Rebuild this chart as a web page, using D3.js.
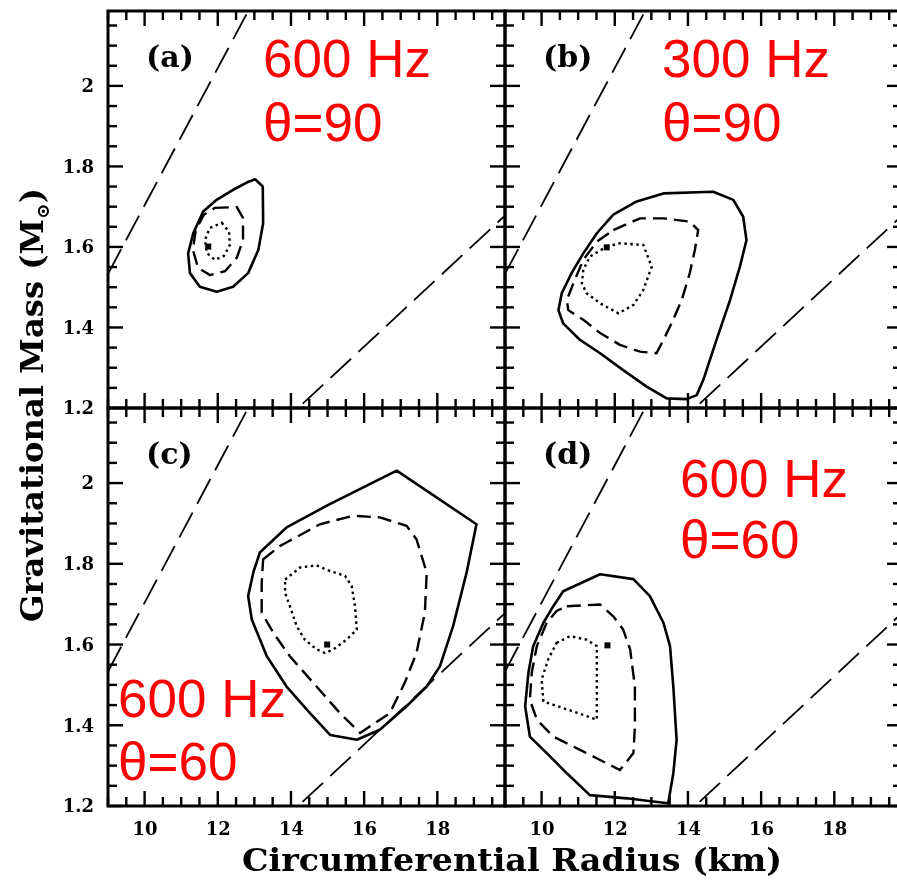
<!DOCTYPE html>
<html>
<head>
<meta charset="utf-8">
<script src="https://cdn.jsdelivr.net/npm/d3@7"></script>
<style>
  body { margin: 0; background: #fff; }
  #wrap { position: relative; width: 897px; height: 880px; }
  #tickCanvas, #chart { position: absolute; left: 0; top: 0; display: block; }
</style>
</head>
<body>
<div id="wrap">
<canvas id="tickCanvas" width="897" height="880"></canvas>
<svg id="chart" width="897" height="880"></svg>
</div>
<script>
// ---- axis ranges and ticks -------------------------------------------
const radiusDomain = [9, 19.85];          // circumferential radius, km
const massDomain = [1.2, 2.186];          // gravitational mass, solar masses
const radiusMajorTicks = [10, 12, 14, 16, 18];
const radiusMinorTicks = [9, 9.5, 10.5, 11, 11.5, 12.5, 13, 13.5, 14.5, 15, 15.5, 16.5, 17, 17.5, 18.5, 19, 19.5];
const massMajorTicks = [1.2, 1.4, 1.6, 1.8, 2.0];
const massMinorTicks = [1.25, 1.3, 1.35, 1.45, 1.5, 1.55, 1.65, 1.7, 1.75, 1.85, 1.9, 1.95, 2.05, 2.1, 2.15];

// ---- limit lines R = s * M (km per solar mass) ----------------------------
const limitLineSlopes = [5.87, 11.83];

// ---- confidence contours [radius km, mass Msun] ----------------------------
// (a) 600 Hz, theta = 90
const contourA_outer = [[13.02,1.768],[13.23,1.750],[13.24,1.659],[13.11,1.593],[12.83,1.535],[12.42,1.501],[11.97,1.489],[11.51,1.501],[11.24,1.535],[11.19,1.584],[11.33,1.634],[11.60,1.688],[11.97,1.717],[12.42,1.742],[12.79,1.760]];
const contourA_middle = [[11.92,1.697],[12.52,1.699],[12.69,1.672],[12.69,1.617],[12.52,1.573],[12.20,1.540],[11.79,1.530],[11.46,1.548],[11.32,1.593],[11.40,1.642],[11.62,1.680]];
const contourA_inner = [[12.11,1.660],[12.31,1.637],[12.33,1.605],[12.17,1.578],[11.92,1.568],[11.70,1.585],[11.65,1.617],[11.78,1.647]];
const bestA = [11.74, 1.601];

// (b) 300 Hz, theta = 90
const contourB_outer = [[13.33,1.733],[14.69,1.737],[15.24,1.717],[15.51,1.675],[15.60,1.617],[15.42,1.551],[15.15,1.468],[14.78,1.369],[14.42,1.270],[14.24,1.232],[13.96,1.222],[13.42,1.224],[12.87,1.253],[12.23,1.294],[11.60,1.336],[11.05,1.369],[10.59,1.410],[10.46,1.443],[10.55,1.485],[10.82,1.535],[11.14,1.584],[11.51,1.634],[11.96,1.680],[12.60,1.713]];
const contourB_middle = [[11.96,1.642],[12.69,1.671],[13.33,1.671],[14.05,1.663],[14.28,1.642],[14.19,1.593],[14.05,1.535],[13.83,1.468],[13.55,1.410],[13.33,1.369],[13.14,1.336],[12.69,1.340],[12.14,1.357],[11.60,1.386],[11.14,1.419],[10.73,1.443],[10.69,1.468],[10.87,1.510],[11.14,1.568],[11.51,1.613]];
const contourB_inner = [[11.78,1.601],[12.14,1.609],[12.78,1.605],[13.01,1.551],[12.78,1.493],[12.51,1.456],[12.10,1.435],[11.60,1.460],[11.23,1.485],[11.10,1.510],[11.14,1.543],[11.32,1.576]];
const bestB = [11.78, 1.599];

// (c) 600 Hz, theta = 60
const contourC_outer = [[13.15,1.828],[13.88,1.890],[14.98,1.944],[16.89,2.031],[19.07,1.898],[18.80,1.778],[18.43,1.645],[18.07,1.546],[17.71,1.496],[17.16,1.447],[16.43,1.389],[15.80,1.364],[15.07,1.376],[14.52,1.430],[13.88,1.496],[13.34,1.571],[12.93,1.662],[12.83,1.720],[12.97,1.778]];
const contourC_middle = [[13.24,1.811],[13.70,1.844],[14.79,1.898],[15.70,1.919],[16.43,1.915],[17.16,1.894],[17.43,1.861],[17.71,1.778],[17.66,1.679],[17.43,1.579],[17.11,1.505],[16.70,1.430],[15.89,1.381],[15.34,1.430],[14.70,1.496],[13.97,1.571],[13.52,1.629],[13.20,1.679],[13.20,1.753]];
const contourC_inner = [[13.84,1.761],[14.25,1.791],[14.70,1.796],[15.07,1.782],[15.48,1.770],[15.66,1.745],[15.75,1.695],[15.80,1.637],[15.52,1.612],[15.16,1.588],[14.93,1.579],[14.70,1.588],[14.38,1.612],[14.16,1.645],[13.97,1.695],[13.84,1.728]];
const bestC = [14.99, 1.600];

// (d) 600 Hz, theta = 60
const contourD_outer = [[10.59,1.732],[11.60,1.774],[12.51,1.762],[12.96,1.720],[13.33,1.654],[13.51,1.596],[13.60,1.496],[13.69,1.364],[13.60,1.281],[13.46,1.207],[12.87,1.213],[12.33,1.219],[11.32,1.227],[10.69,1.281],[10.14,1.331],[9.68,1.372],[9.55,1.447],[9.64,1.530],[9.77,1.596],[10.05,1.654],[10.32,1.695]];
const contourD_middle = [[10.69,1.695],[11.60,1.699],[11.96,1.670],[12.23,1.637],[12.42,1.588],[12.55,1.496],[12.55,1.397],[12.51,1.331],[12.14,1.289],[11.60,1.314],[11.05,1.339],[10.32,1.372],[9.87,1.414],[9.68,1.463],[9.73,1.530],[9.87,1.596],[10.14,1.654],[10.41,1.683]];
const contourD_inner = [[10.41,1.604],[10.78,1.621],[11.23,1.612],[11.51,1.596],[11.51,1.414],[10.87,1.434],[10.05,1.459],[10.00,1.513],[10.18,1.563]];
const bestD = [11.80, 1.598];

// ---- panel annotations ------------------------------------------------------
const panelLetters = ["(a)", "(b)", "(c)", "(d)"];
const spinLabels = ["600 Hz", "300 Hz", "600 Hz", "600 Hz"];
const angleLabels = ["θ=90", "θ=90", "θ=60", "θ=60"];

// ---- layout -----------------------------------------------------------------
const colX = [[108, 505], [505, 902]];
const rowY = [[408, 11], [806, 408]];
const annotPos = [
  { x: 263, y1: 77, y2: 141 },
  { x: 662, y1: 77, y2: 141 },
  { x: 118, y1: 717, y2: 780 },
  { x: 680, y1: 497, y2: 558 }
];

const panels = [
  { col: 0, row: 0, outer: contourA_outer, middle: contourA_middle, inner: contourA_inner, best: bestA },
  { col: 1, row: 0, outer: contourB_outer, middle: contourB_middle, inner: contourB_inner, best: bestB },
  { col: 0, row: 1, outer: contourC_outer, middle: contourC_middle, inner: contourC_inner, best: bestC },
  { col: 1, row: 1, outer: contourD_outer, middle: contourD_middle, inner: contourD_inner, best: bestD }
];

const svg = d3.select("#chart");
const ctx = document.getElementById("tickCanvas").getContext("2d");
ctx.fillStyle = "#fff";
ctx.fillRect(0, 0, 897, 880);
const tickFont = "'DejaVu Serif', serif";
const defs = svg.append("defs");
const labelLayer = svg.append("g").attr("class", "tick-labels");
const TICK_W = 2.4;

// inward tick marks painted on the canvas beneath the vector layer
function paintTicks(scale, values, len, side, edge) {
  ctx.fillStyle = "#000";
  values.forEach(v => {
    const s = scale(v);
    if (side === "bottom") ctx.fillRect(s - TICK_W / 2, edge - len, TICK_W, len);
    else if (side === "top") ctx.fillRect(s - TICK_W / 2, edge, TICK_W, len);
    else if (side === "left") ctx.fillRect(edge, s - TICK_W / 2, len, TICK_W);
    else ctx.fillRect(edge - len, s - TICK_W / 2, len, TICK_W);
  });
}

panels.forEach((p, i) => {
  const x = d3.scaleLinear().domain(radiusDomain).range(colX[p.col]);
  const y = d3.scaleLinear().domain(massDomain).range(rowY[p.row]);
  const [x0, x1] = x.range();
  const [yb, yt] = y.range();
  const g = svg.append("g").attr("class", "panel");

  defs.append("clipPath").attr("id", "clip" + i)
    .append("rect").attr("x", x0).attr("y", yt).attr("width", x1 - x0).attr("height", yb - yt);

  const plot = g.append("g").attr("clip-path", `url(#clip${i})`);

  // limit lines through the origin
  limitLineSlopes.forEach(s => {
    plot.append("line")
      .attr("x1", x(radiusDomain[0])).attr("y1", y(radiusDomain[0] / s))
      .attr("x2", x(radiusDomain[1])).attr("y2", y(radiusDomain[1] / s))
      .attr("stroke", "#000").attr("stroke-width", 1.8)
      .attr("stroke-dasharray", "28,10");
  });

  const line = d3.line().x(d => x(d[0])).y(d => y(d[1])).curve(d3.curveLinearClosed);

  plot.append("path").attr("d", line(p.outer))
    .attr("fill", "none").attr("stroke", "#000").attr("stroke-width", 2.6)
    .attr("stroke-linejoin", "round");
  plot.append("path").attr("d", line(p.middle))
    .attr("fill", "none").attr("stroke", "#000").attr("stroke-width", 2.4)
    .attr("stroke-dasharray", "14,7");
  plot.append("path").attr("d", line(p.inner))
    .attr("fill", "none").attr("stroke", "#000").attr("stroke-width", 2.4)
    .attr("stroke-dasharray", "2.5,3.5");
  plot.append("rect")
    .attr("x", x(p.best[0]) - 3).attr("y", y(p.best[1]) - 3)
    .attr("width", 6).attr("height", 6).attr("fill", "#000");

  // inward ticks on all four edges: every 0.5 km / 0.05 Msun, longer at labelled values
  [["bottom", yb], ["top", yt]].forEach(([side, edge]) => {
    paintTicks(x, radiusMinorTicks, 9, side, edge);
    paintTicks(x, radiusMajorTicks, 15, side, edge);
  });
  [["left", x0], ["right", x1]].forEach(([side, edge]) => {
    paintTicks(y, massMinorTicks, 9, side, edge);
    paintTicks(y, massMajorTicks, 15, side, edge);
  });

  // frame
  g.append("rect").attr("x", x0).attr("y", yt).attr("width", x1 - x0).attr("height", yb - yt)
    .attr("fill", "none").attr("stroke", "#000").attr("stroke-width", 3);

  // tick labels on the outer edges
  const styleLabels = a => {
    a.select(".domain").remove();
    a.selectAll(".tick line").remove();
    a.selectAll(".tick text")
      .attr("font-family", tickFont).attr("font-weight", "bold")
      .attr("font-size", 18).attr("fill", "#000");
  };
  if (p.row === 1) {
    labelLayer.append("g").attr("transform", `translate(0,${yb})`)
      .call(d3.axisBottom(x).tickValues(radiusMajorTicks).tickSize(0).tickPadding(16)
        .tickFormat(d3.format("d")))
      .call(styleLabels);
  }
  if (p.col === 0) {
    labelLayer.append("g").attr("transform", `translate(${x0},0)`)
      .call(d3.axisLeft(y).tickValues(massMajorTicks).tickSize(0).tickPadding(14)
        .tickFormat(d => String(+d.toFixed(2))))
      .call(styleLabels);
  }

  // panel letter
  g.append("text").attr("x", x0 + 38).attr("y", yt + 56)
    .attr("font-family", tickFont).attr("font-weight", "bold").attr("font-size", 30)
    .text(panelLetters[i]);

  // spin frequency and inclination notes
  const a = annotPos[i];
  g.append("text").attr("x", a.x).attr("y", a.y1)
    .attr("font-family", "'Liberation Sans', Arial, sans-serif").attr("font-size", 53)
    .attr("fill", "#ff0000").text(spinLabels[i]);
  g.append("text").attr("x", a.x).attr("y", a.y2)
    .attr("font-family", "'Liberation Sans', Arial, sans-serif").attr("font-size", 53)
    .attr("fill", "#ff0000").text(angleLabels[i]);
});

// axis titles
svg.append("text")
  .attr("x", 512).attr("y", 871).attr("text-anchor", "middle")
  .attr("font-family", tickFont).attr("font-weight", "bold").attr("font-size", 31)
  .attr("textLength", 540).attr("lengthAdjust", "spacingAndGlyphs")
  .text("Circumferential Radius (km)");

const yTitle = svg.append("text")
  .attr("transform", "translate(43,405) rotate(-90)")
  .attr("text-anchor", "middle")
  .attr("font-family", tickFont).attr("font-weight", "bold").attr("font-size", 31)
  .attr("textLength", 434).attr("lengthAdjust", "spacingAndGlyphs");
yTitle.append("tspan").text("Gravitational Mass (M");
yTitle.append("tspan").attr("font-size", 18).attr("dy", 6).text("⊙");
yTitle.append("tspan").attr("dy", -6).text(")");
</script>
</body>
</html>
